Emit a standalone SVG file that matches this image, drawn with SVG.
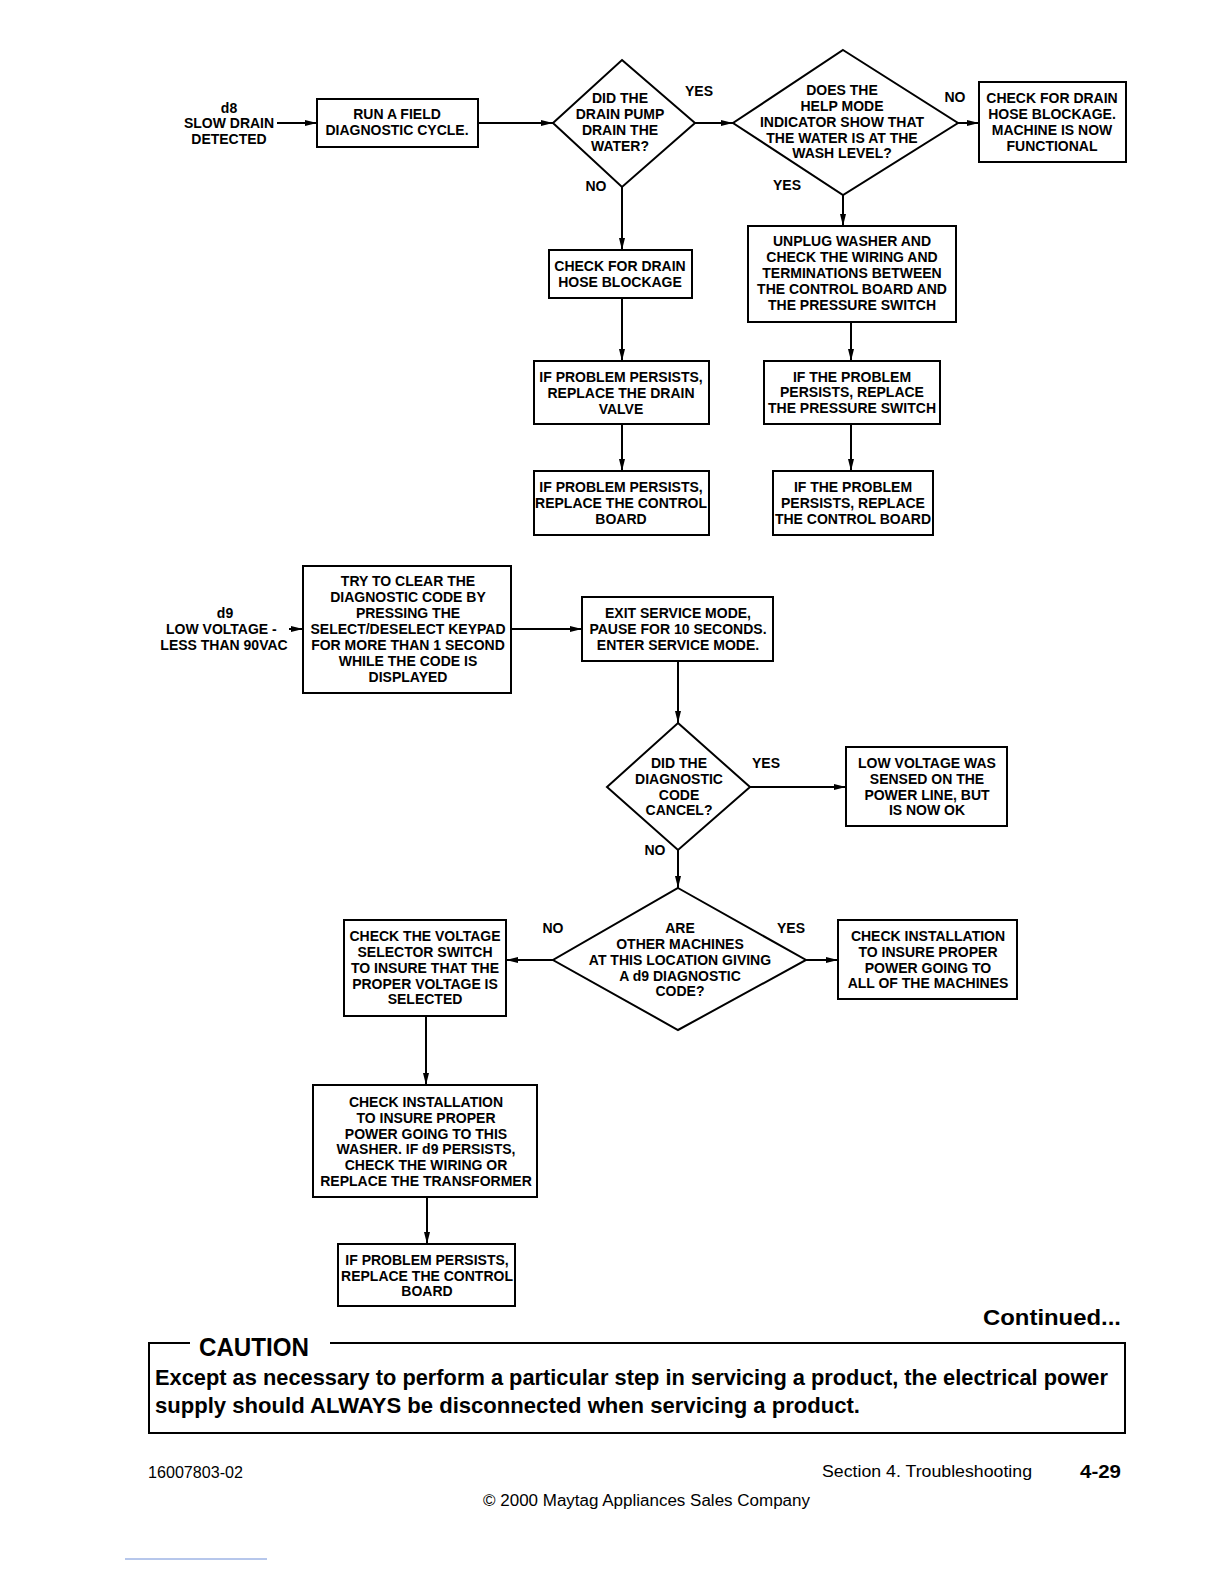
<svg xmlns="http://www.w3.org/2000/svg" width="1224" height="1584" viewBox="0 0 1224 1584">
<defs>
<marker id="ah" viewBox="0 0 12 8" refX="12" refY="4" markerWidth="12" markerHeight="8" markerUnits="userSpaceOnUse" orient="auto">
<path d="M0,1 L12,4 L0,7 Z" fill="#000"/>
</marker>
<style>
.b{fill:#fff;stroke:#000;stroke-width:2}
.t{font-family:"Liberation Sans",Arial,sans-serif;font-weight:bold;font-size:14px;fill:#000;text-anchor:middle}
.l{font-family:"Liberation Sans",Arial,sans-serif;font-weight:bold;font-size:14px;fill:#000}
.c{fill:none;stroke:#000;stroke-width:2}
.a{fill:none;stroke:#000;stroke-width:2;marker-end:url(#ah)}
.f{font-family:"Liberation Sans",Arial,sans-serif;fill:#000}
</style>
</defs>
<rect width="1224" height="1584" fill="#fff"/>

<g id="connectors">
<line class="a" x1="277" y1="123" x2="317" y2="123"/>
<line class="a" x1="478" y1="123" x2="553" y2="123"/>
<line class="a" x1="695" y1="123" x2="733" y2="123"/>
<line class="a" x1="958" y1="123" x2="979" y2="123"/>
<line class="a" x1="622" y1="187" x2="622" y2="250"/>
<line class="a" x1="843" y1="195" x2="843" y2="226"/>
<line class="a" x1="622" y1="298" x2="622" y2="361"/>
<line class="a" x1="622" y1="424" x2="622" y2="471"/>
<line class="a" x1="851" y1="322" x2="851" y2="361"/>
<line class="a" x1="851" y1="424" x2="851" y2="471"/>
<line class="a" x1="289" y1="629" x2="303" y2="629"/>
<line class="a" x1="511" y1="629" x2="582" y2="629"/>
<line class="a" x1="678" y1="661" x2="678" y2="723"/>
<line class="a" x1="750" y1="787" x2="846" y2="787"/>
<line class="a" x1="678" y1="850" x2="678" y2="888"/>
<line class="a" x1="553" y1="960" x2="506" y2="960"/>
<line class="a" x1="806" y1="960" x2="838" y2="960"/>
<line class="a" x1="426" y1="1016" x2="426" y2="1085"/>
<line class="a" x1="427" y1="1197" x2="427" y2="1244"/>
</g>

<g id="d8-label">
<text class="t" x="229" y="113">d8</text>
<text class="t" x="229" y="128">SLOW DRAIN</text>
<text class="t" x="229" y="144">DETECTED</text>
</g>

<g id="run-field">
<rect class="b" x="317" y="99" width="161" height="48"/>
<text class="t" x="397" y="119">RUN A FIELD</text>
<text class="t" x="397" y="135">DIAGNOSTIC CYCLE.</text>
</g>

<g id="diamond-drain-pump">
<polygon class="b" points="622,60 695,123 622,187 553,123"/>
<text class="t" x="620" y="103">DID THE</text>
<text class="t" x="620" y="119">DRAIN PUMP</text>
<text class="t" x="620" y="135">DRAIN THE</text>
<text class="t" x="620" y="151">WATER?</text>
</g>

<g id="diamond-help-mode">
<polygon class="b" points="843,50 958,123 843,195 733,123"/>
<text class="t" x="842" y="95">DOES THE</text>
<text class="t" x="842" y="111">HELP MODE</text>
<text class="t" x="842" y="127">INDICATOR SHOW THAT</text>
<text class="t" x="842" y="143">THE WATER IS AT THE</text>
<text class="t" x="842" y="158">WASH LEVEL?</text>
</g>

<g id="labels">
<text class="t" x="699" y="96">YES</text>
<text class="t" x="955" y="102">NO</text>
<text class="t" x="596" y="191">NO</text>
<text class="t" x="787" y="190">YES</text>
<text class="t" x="766" y="768">YES</text>
<text class="t" x="655" y="855">NO</text>
<text class="t" x="553" y="933">NO</text>
<text class="t" x="791" y="933">YES</text>
</g>

<g id="machine-functional">
<rect class="b" x="979" y="82" width="147" height="80"/>
<text class="t" x="1052" y="103">CHECK FOR DRAIN</text>
<text class="t" x="1052" y="119">HOSE BLOCKAGE.</text>
<text class="t" x="1052" y="135">MACHINE IS NOW</text>
<text class="t" x="1052" y="151">FUNCTIONAL</text>
</g>

<g id="check-drain-hose">
<rect class="b" x="549" y="250" width="143" height="48"/>
<text class="t" x="620" y="271">CHECK FOR DRAIN</text>
<text class="t" x="620" y="287">HOSE BLOCKAGE</text>
</g>

<g id="replace-drain-valve">
<rect class="b" x="534" y="361" width="175" height="63"/>
<text class="t" x="621" y="382">IF PROBLEM PERSISTS,</text>
<text class="t" x="621" y="398">REPLACE THE DRAIN</text>
<text class="t" x="621" y="414">VALVE</text>
</g>

<g id="replace-control-board-1">
<rect class="b" x="534" y="471" width="175" height="64"/>
<text class="t" x="621" y="492">IF PROBLEM PERSISTS,</text>
<text class="t" x="621" y="508">REPLACE THE CONTROL</text>
<text class="t" x="621" y="524">BOARD</text>
</g>

<g id="unplug-washer">
<rect class="b" x="748" y="226" width="208" height="96"/>
<text class="t" x="852" y="246">UNPLUG WASHER AND</text>
<text class="t" x="852" y="262">CHECK THE WIRING AND</text>
<text class="t" x="852" y="278">TERMINATIONS BETWEEN</text>
<text class="t" x="852" y="294">THE CONTROL BOARD AND</text>
<text class="t" x="852" y="310">THE PRESSURE SWITCH</text>
</g>

<g id="replace-pressure-switch">
<rect class="b" x="764" y="361" width="176" height="63"/>
<text class="t" x="852" y="382">IF THE PROBLEM</text>
<text class="t" x="852" y="397">PERSISTS, REPLACE</text>
<text class="t" x="852" y="413">THE PRESSURE SWITCH</text>
</g>

<g id="replace-control-board-2">
<rect class="b" x="773" y="471" width="160" height="64"/>
<text class="t" x="853" y="492">IF THE PROBLEM</text>
<text class="t" x="853" y="508">PERSISTS, REPLACE</text>
<text class="t" x="853" y="524">THE CONTROL BOARD</text>
</g>

<g id="d9-label">
<text class="t" x="225" y="618">d9</text>
<text class="l" x="166" y="634">LOW VOLTAGE -</text>
<text class="t" x="224" y="650">LESS THAN 90VAC</text>
</g>

<g id="try-clear">
<rect class="b" x="303" y="566" width="208" height="127"/>
<text class="t" x="408" y="586">TRY TO CLEAR THE</text>
<text class="t" x="408" y="602">DIAGNOSTIC CODE BY</text>
<text class="t" x="408" y="618">PRESSING THE</text>
<text class="t" x="408" y="634">SELECT/DESELECT KEYPAD</text>
<text class="t" x="408" y="650">FOR MORE THAN 1 SECOND</text>
<text class="t" x="408" y="666">WHILE THE CODE IS</text>
<text class="t" x="408" y="682">DISPLAYED</text>
</g>

<g id="exit-service">
<rect class="b" x="582" y="597" width="191" height="64"/>
<text class="t" x="678" y="618">EXIT SERVICE MODE,</text>
<text class="t" x="678" y="634">PAUSE FOR 10 SECONDS.</text>
<text class="t" x="678" y="650">ENTER SERVICE MODE.</text>
</g>

<g id="diamond-code-cancel">
<polygon class="b" points="678,723 750,787 678,850 607,787"/>
<text class="t" x="679" y="768">DID THE</text>
<text class="t" x="679" y="784">DIAGNOSTIC</text>
<text class="t" x="679" y="800">CODE</text>
<text class="t" x="679" y="815">CANCEL?</text>
</g>

<g id="low-voltage-ok">
<rect class="b" x="846" y="747" width="161" height="79"/>
<text class="t" x="927" y="768">LOW VOLTAGE WAS</text>
<text class="t" x="927" y="784">SENSED ON THE</text>
<text class="t" x="927" y="800">POWER LINE, BUT</text>
<text class="t" x="927" y="815">IS NOW OK</text>
</g>

<g id="diamond-other-machines">
<polygon class="b" points="678,888 806,960 678,1030 553,960"/>
<text class="t" x="680" y="933">ARE</text>
<text class="t" x="680" y="949">OTHER MACHINES</text>
<text class="t" x="680" y="965">AT THIS LOCATION GIVING</text>
<text class="t" x="680" y="981">A d9 DIAGNOSTIC</text>
<text class="t" x="680" y="996">CODE?</text>
</g>

<g id="check-voltage-selector">
<rect class="b" x="344" y="920" width="162" height="96"/>
<text class="t" x="425" y="941">CHECK THE VOLTAGE</text>
<text class="t" x="425" y="957">SELECTOR SWITCH</text>
<text class="t" x="425" y="973">TO INSURE THAT THE</text>
<text class="t" x="425" y="989">PROPER VOLTAGE IS</text>
<text class="t" x="425" y="1004">SELECTED</text>
</g>

<g id="check-installation-all">
<rect class="b" x="838" y="920" width="179" height="79"/>
<text class="t" x="928" y="941">CHECK INSTALLATION</text>
<text class="t" x="928" y="957">TO INSURE PROPER</text>
<text class="t" x="928" y="973">POWER GOING TO</text>
<text class="t" x="928" y="988">ALL OF THE MACHINES</text>
</g>

<g id="check-installation-washer">
<rect class="b" x="313" y="1085" width="224" height="112"/>
<text class="t" x="426" y="1107">CHECK INSTALLATION</text>
<text class="t" x="426" y="1123">TO INSURE PROPER</text>
<text class="t" x="426" y="1139">POWER GOING TO THIS</text>
<text class="t" x="426" y="1154">WASHER. IF d9 PERSISTS,</text>
<text class="t" x="426" y="1170">CHECK THE WIRING OR</text>
<text class="t" x="426" y="1186">REPLACE THE TRANSFORMER</text>
</g>

<g id="replace-control-board-3">
<rect class="b" x="338" y="1244" width="177" height="62"/>
<text class="t" x="427" y="1265">IF PROBLEM PERSISTS,</text>
<text class="t" x="427" y="1281">REPLACE THE CONTROL</text>
<text class="t" x="427" y="1296">BOARD</text>
</g>

<g id="continued">
<text class="f" x="1121" y="1325" font-size="22" font-weight="bold" text-anchor="end" textLength="138" lengthAdjust="spacingAndGlyphs">Continued...</text>
</g>

<g id="caution">
<polyline class="c" points="190,1343 149,1343 149,1433 1125,1433 1125,1343 330,1343"/>
<text class="f" x="199" y="1356" font-size="25" font-weight="bold" textLength="110" lengthAdjust="spacingAndGlyphs">CAUTION</text>
<text class="f" x="155" y="1385" font-size="22" font-weight="bold" textLength="953" lengthAdjust="spacingAndGlyphs">Except as necessary to perform a particular step in servicing a product, the electrical power</text>
<text class="f" x="155" y="1413" font-size="22" font-weight="bold" textLength="705" lengthAdjust="spacingAndGlyphs">supply should ALWAYS be disconnected when servicing a product.</text>
</g>

<g id="footer">
<text class="f" x="148" y="1478" font-size="16" textLength="95" lengthAdjust="spacingAndGlyphs">16007803-02</text>
<text class="f" x="822" y="1477" font-size="16" textLength="210" lengthAdjust="spacingAndGlyphs">Section 4.  Troubleshooting</text>
<text class="f" x="1080" y="1478" font-size="19" font-weight="bold" textLength="41" lengthAdjust="spacingAndGlyphs">4-29</text>
<text class="f" x="483" y="1506" font-size="16" textLength="327" lengthAdjust="spacingAndGlyphs">© 2000 Maytag Appliances Sales Company</text>
<line x1="125" y1="1559" x2="267" y2="1559" stroke="#6f8fd8" stroke-width="1"/>
</g>
</svg>
